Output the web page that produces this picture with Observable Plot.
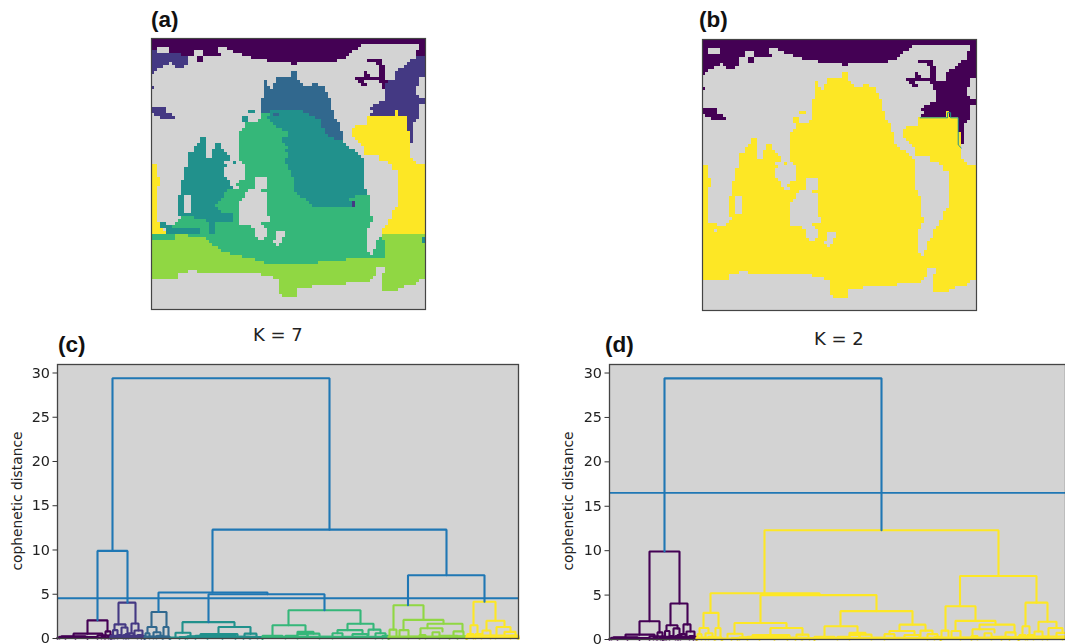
<!DOCTYPE html>
<html><head><meta charset="utf-8">
<script src="https://cdn.jsdelivr.net/npm/d3@7"></script>
<script src="https://cdn.jsdelivr.net/npm/@observablehq/plot@0.6"></script>
<style>
html,body{margin:0;padding:0;background:#fff;overflow:hidden}
#page{position:relative;width:1065px;height:644px;overflow:hidden;background:#fff}
.panel{position:absolute;font-family:"Liberation Sans",Arial,sans-serif;font-weight:bold;font-size:22.5px;color:#111;line-height:24px}
.k{position:absolute;font-family:"DejaVu Sans",sans-serif;font-size:18px;color:#222;line-height:22px}
.yl{position:absolute;font-family:"DejaVu Sans",sans-serif;font-size:13.8px;color:#222;transform:translate(-50%,-50%) rotate(-90deg);white-space:nowrap}
svg{display:block;filter:blur(0.4px)}
</style></head><body><div id="page"></div>
<script>
// Cluster map, K = 7: [first row, "startColumn+class ..."] ("." = land)
const mapRows = [
[0,"0a"],[2,"0a 69. 88a"],[3,"0a 2. 6a 22. 25a 68. 88a"],[4,"0b 2. 6a 14. 17a 22. 27a 66. 87a"],
[5,"0b 10a 14. 17a 23. 30a 65. 87a"],[6,"0b 12. 15a 17. 33a 64. 87b"],[7,"0b 12. 15a 17. 38a 61. 71a 76. 85b"],
[8,"0b 6. 7b 12. 46a 48. 74a 76. 84b"],[9,"0b 4. 8b 11. 75a 77. 83b"],[10,"0b 2. 75a 77. 81b"],
[11,"0b 1. 46c 48. 70a 71. 75a 77. 80b"],[12,"46c 48. 70a 72. 75a 77. 80b"],[13,"41c 48. 67a 77. 80b 88."],
[14,"37c 38. 41c 49. 68a 70. 75a 78b 88."],[15,"37c 38. 40c 50. 53c 55. 69a 71. 76a 77b 88."],
[16,"0b 1. 37c 39. 40c 57. 76a 77b 87."],[17,"37c 57. 77b 87."],[18,"37c 58. 77b 87."],[19,"37c 58. 77b 88."],
[20,"36c 59. 77b"],[21,"36c 59. 75b"],[22,"36c 59. 73b 88."],[23,"0b 5. 36c 59. 72b 88."],
[24,"0b 5. 32d 34. 36c 39d 50c 60. 73b 80h 81b 88."],[25,"1b 7. 36e 39d 40c 42d 52c 60. 72b 80h 81b 88."],
[26,"3b 8. 30d 32. 36e 38d 54c 60. 71g 84b 88."],[27,"30d 32. 35e 39d 56c 61. 71g 84b 87."],
[28,"31e 40d 56c 62. 71g 84b 86."],[29,"31e 41d 56c 62. 67g 84b 86."],[30,"30e 43d 57c 62. 66g 84b 86."],
[31,"29e 45d 57c 63. 66g 85b 86."],[32,"29e 45d 58c 63. 66g 85b 86."],[33,"16d 18. 29e 43d 60c 63. 67g 85b 86."],
[34,"16d 18. 29e 43d 63. 68g 85b 86."],[35,"15d 18. 21d 23. 29e 44d 64. 69g 85."],[36,"14d 18. 21d 23. 29e 45d 65. 70g 85."],
[37,"14d 18. 20d 24. 29e 44d 67. 70g 85."],[38,"12d 18. 20d 25. 29e 45d 68. 70g 85."],[39,"12d 18. 20d 26. 29e 45d 69. 75g 85."],
[40,"12d 26. 29e 44d 70. 75g 86."],[41,"12d 24. 27d 28. 30e 44d 70. 78g 87."],[42,"0g 2. 12d 25. 31e 45d 70. 79g"],
[43,"0g 2. 11d 24. 31e 45d 70. 79g"],[44,"0g 2. 11d 24. 31e 46d 70. 81g"],[46,"0g 3. 11d 25. 31e 34. 38e 47d 70. 81g"],
[47,"0g 3. 10d 26. 29e 34. 38e 47d 70. 81g"],[48,"0g 3. 10d 26. 28e 34. 38e 47d 70. 81g"],[49,"0g 2. 10d 27. 29e 34. 38e 47d 70. 81g"],
[50,"0g 2. 10d 25e 32. 36e 47d 71. 81g"],[51,"0g 2. 10d 24e 31. 38e 48d 71. 81g"],[52,"0g 2. 9d 11. 13d 24e 31. 38e 49d 67e 72. 81g"],
[53,"0g 2. 9d 11. 13d 23e 30. 38e 51d 65e 72. 81g"],[54,"0g 2. 9d 11. 13d 22e 29. 38e 52d 66i 67e 72. 81g"],
[55,"0g 2. 9d 11. 13d 21e 29. 38e 53d 66i 67e 72. 81g"],[56,"0g 2. 9d 11. 13d 22e 29. 38e 72. 80g"],[57,"0g 2. 9d 11. 13d 23e 29. 38e 72. 79g"],
[58,"0g 2. 9d 27e 29. 38e 72. 79g"],[59,"0g 2. 10e 14d 27e 29. 39e 73. 79g"],[60,"0g 2. 9e 18d 27e 29. 39e 73. 78g"],
[61,"0g 3. 3d 5. 8e 19d 21e 29. 36e 72. 78g"],[62,"0g 3. 3d 7. 7e 19d 21e 33. 37e 72. 77g"],[63,"0g 4. 5d 16e 19d 21e 34. 38e 71. 76g"],
[64,"0g 5d 16e 19d 21e 34. 38e 41. 44e 71. 76g"],[65,"0e 8f 12e 34. 38e 41. 44e 71. 76f"],[66,"0e 8f 18e 35. 37e 41. 43e 71. 75e 76f 89d"],
[67,"0f 19e 40. 43e 71. 74e 77f 89d"],[68,"0f 20e 41. 42e 71. 74e 77f"],[69,"0f 22e 71. 74e 77f"],[70,"0f 23e 71. 73e 77f"],
[71,"0f 26e 72. 73e 77f"],[72,"0f 30e 77f"],[73,"0f 34e 64f"],[74,"0f 37e 55f"],[75,"0f"],[76,"0f 74. 77f"],
[77,"0f 12. 15f 74. 77f"],[78,"0f 9. 36f 74. 76f"],[79,"0f 9. 40f 73. 76f"],[80,"42f 72. 76f 88."],[81,"42f 64. 76f 87."],
[82,"42f 53. 76f 83."],[83,"42f 48. 76f 81."],[84,"42f 48."],[85,"43f 48."],[86,"0."]
];
const mapColors = {a:"#440154",b:"#443983",c:"#31688e",d:"#21918c",e:"#35b779",f:"#90d743",g:"#fde725",h:"#fde725",i:"#443983"};
const k2Class = {a:"a",b:"a",c:"g",d:"g",e:"g",f:"g",g:"g",h:"g",i:"g"};
const k2EdgeCol = [71.5,80.5,80.5,81.5,81.5,84,84,85];
const k2EdgeRow = [26,26,24.3,24.3,26,26,35,36];

// Dendrogram merges: [left leaf pos, right leaf pos, height, left child height, right child height]
const topMerge = [[55,272,29.4,9.9,12.3]];
const leftUpper = [[40,70,9.9,2.05,4.05]];
const rightUpper = [[155,389,12.3,5.2,7.15],[101,210,5.2,3.0,5.0],[151,267,5.0,1.85,3.2],[350.5,427,7.15,3.75,4.15]];
const purple = [[30,50,2.05,.55,.8],[16,45,.55,.25,.3],[4,28,.25,.1,.1],[40,50,.35,0,.1],[48,53,.8,0,.2],[0,8,.1,0,0],[8,18,.12,0,0],[18,30,.1,0,0],[30,40,.15,0,0],[44,47,.2,0,0],[51,54,.35,0,0],[0,54,.07,0,0],[2,30,.2,0,0]];
const indigo = [[61,78,4.05,1.6,1.7],[57,68,1.6,.95,1.25],[74,81,1.7,.6,.9],[55.5,60,.95,0,.3],[64,70,1.25,.4,.6],[71,76,.6,0,.3],[77,85,.9,.3,.4],[60,64,.4,0,.1],[68,72,.5,0,.1],[53,57,.2,0,0],[66,69,.4,0,0],[80,84,.4,0,0],[84,87,.25,0,0],[53,87,.1,0,0],[53,87,.3,0,0]];
const blue = [[94,109,3.0,1.3,1.3],[90,99,1.3,.6,.7],[106,111,1.3,0,.3],[88,92,.6,0,.2],[96,103,.7,.2,.3],[92,96,.2,0,0],[99,105,.3,0,0],[105,112,.2,0,0],[87,112,.08,0,0],[87,112,.22,0,0]];
const teal = [[125,177,1.85,.65,1.3],[118,133,.65,.1,.3],[161,193,1.3,.5,.5],[143,180,.5,.3,.3],[187,199,.55,.1,.2],[113,122,.1,0,0],[122,128,.15,0,0],[130,138,.25,0,0],[138,150,.3,0,0],[150,165,.35,0,0],[165,178,.3,0,0],[178,186,.2,0,0],[186,192,.2,0,0],[193,205,.15,0,0],[113,205,.06,0,0],[128,200,.18,0,0]];
const green = [[231,303,3.2,1.5,1.67],[215,248,1.5,.3,.75],[290,316,1.67,.95,1.0],[205,225,.3,0,.1],[240,256,.75,.5,.55],[280,305,.95,.6,.5],[311,323,1,.4,.6],[228,240,.3,0,0],[240,250,.5,.2,.3],[250,262,.55,.2,.2],[262,275,.2,0,0],[275,285,.6,.3,.1],[295,310,.5,.2,.2],[318,328,.6,0,.2],[325,331,.3,0,0],[205,331,.08,0,0],[205,331,.2,0,0]];
const lime = [[336,366,3.75,1.0,2.1],[332,339,1.0,0,.3],[346,386,2.1,.95,1.67],[342,351,.95,.1,.2],[370,405,1.67,1.15,.8],[363,385,1.15,.4,.8],[396,406,.8,.1,.3],[351,362,.2,0,0],[362,368,.4,0,0],[375,382,.7,.2,.2],[382,392,.3,0,0],[392,400,.3,0,0],[400,409,.25,0,0],[331,409,.08,0,0],[331,409,.22,0,0]];
const yellow = [[416,438,4.15,1.5,2.0],[413,420,1.5,.5,.5],[429,447,2,.9,1.3],[425,433,.9,.3,.3],[439,453,1.3,.3,.75],[447,458,.75,.2,.3],[410,416,.5,0,0],[418,424,.5,0,0],[433,438,.3,0,0],[453,460,.3,0,0],[409,461,.12,0,0],[409,461,.05,0,0],[409,461,.32,0,0]];
const yTicks = [0,5,10,15,20,25,30];

const VB = "#1f77b4";
const groupsK7 = [[purple,mapColors.a],[indigo,mapColors.b],[blue,mapColors.c],[teal,mapColors.d],[green,mapColors.e],[lime,mapColors.f],[yellow,mapColors.g],[leftUpper,VB],[rightUpper,VB],[topMerge,VB]];
const groupsK2 = [[purple,mapColors.a],[indigo,mapColors.a],[blue,mapColors.g],[teal,mapColors.g],[green,mapColors.g],[lime,mapColors.g],[yellow,mapColors.g],[leftUpper,mapColors.a],[rightUpper,mapColors.g],[topMerge,VB]];

const page = document.getElementById("page");
function put(node,left,top){node.style.position="absolute";node.style.left=left+"px";node.style.top=top+"px";page.appendChild(node);}
function label(cls,text,left,top){const d=document.createElement("div");d.className=cls;d.textContent=text;d.style.left=left+"px";d.style.top=top+"px";page.appendChild(d);}

function runs(convert){
  const out=[];
  mapRows.forEach(([r,s],i)=>{
    const r2=i+1<mapRows.length?mapRows[i+1][0]:90;
    const t=s.split(" ").map(x=>[+x.slice(0,-1),x.slice(-1)]);
    t.forEach(([c,k],j)=>{
      if(k===".")return;
      out.push({x1:c,x2:j+1<t.length?t[j+1][0]:90,y1:r,y2:r2,fill:mapColors[convert?k2Class[k]:k]});
    });
  });
  return out;
}
function mapPlot(convert,left,top,w,h){
  const marks=[Plot.frame({fill:"#d3d3d3"}),
    Plot.rect(runs(convert),{x1:"x1",x2:"x2",y1:"y1",y2:"y2",fill:"fill",shapeRendering:"crispEdges"})];
  if(convert) marks.push(Plot.line(k2EdgeCol.map((c,i)=>({c,r:k2EdgeRow[i]})),{x:"c",y:"r",stroke:mapColors.d,strokeWidth:1}));
  marks.push(Plot.frame({stroke:"#444",strokeWidth:1.2}));
  const svg=Plot.plot({width:w+10,height:h+10,marginLeft:5,marginRight:5,marginTop:5,marginBottom:5,
    x:{domain:[0,90],axis:null},y:{domain:[0,90],reverse:true,axis:null},marks});
  put(svg,left-5,top-5);
}
function dendro(groups,cut,left,svgW,right,plotW,frameH){
  const data=[];let id=0;
  groups.forEach(([arr,col])=>arr.forEach(([xl,xr,h,hl,hr])=>{
    id++;
    [[xl,hl],[xl,h],[xr,h],[xr,hr]].forEach(([x,y])=>data.push({x,y,id,col}));
  }));
  const mt=8,svgH=288.5;
  const svg=Plot.plot({width:svgW,height:svgH,marginLeft:left,marginRight:right,marginTop:mt,marginBottom:svgH-mt-frameH,
    x:{domain:[0,plotW],axis:null},
    y:{domain:[0,30.96],axis:null},
    marks:[
      Plot.frame({fill:"#d3d3d3"}),
      Plot.ruleY([cut],{stroke:VB,strokeWidth:1.8}),
      Plot.line(data,{x:"x",y:"y",z:"id",stroke:"col",strokeWidth:2.1,strokeLinejoin:"miter"}),
      Plot.frame({stroke:"#444",strokeWidth:1.3}),
      Plot.axisY({ticks:yTicks,tickSize:4.5,tickPadding:3,label:null,stroke:"#333",tickFormat:d=>String(d)})
    ]});
  svg.querySelectorAll("text").forEach(t=>{t.style.fontFamily='"DejaVu Sans",sans-serif';t.style.fontSize="14.4px";t.style.fill="#222";});
  return svg;
}

mapPlot(false,151,38,274,271);
mapPlot(true,702,39,274,271);
put(dendro(groupsK7,4.55,57,525,7,461,274),0,355.5);
// panel (d) runs past the page edge, as in the reference
put(dendro(groupsK2,16.5,609,1065,0,456,275),0,355.5);

label("panel","(a)",151,8);
label("panel","(b)",699,8);
label("panel","(c)",58,333);
label("panel","(d)",605,333);
label("k","K = 7",253,324);
label("k","K = 2",814,328);
label("yl","cophenetic distance",17,501);
label("yl","cophenetic distance",568,501);
</script></body></html>
